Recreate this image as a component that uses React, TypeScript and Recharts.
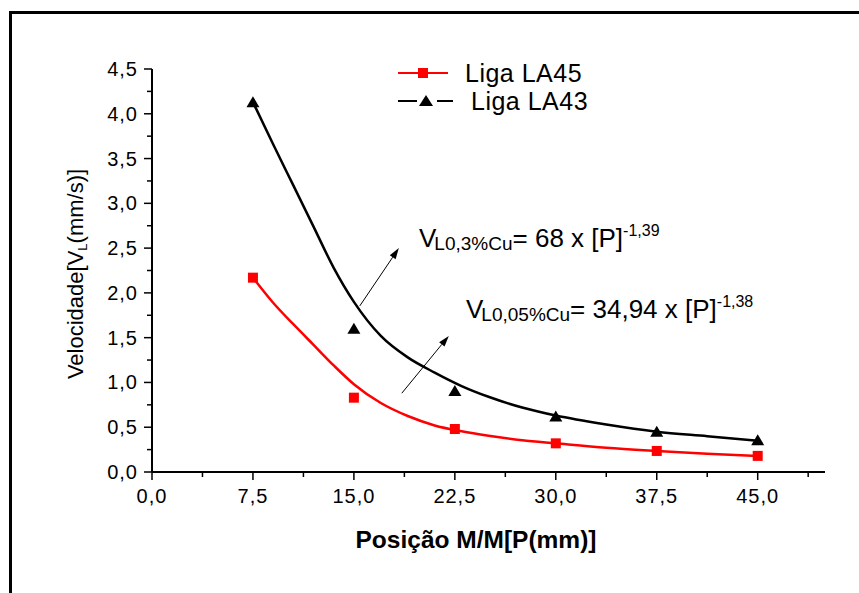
import React from "react";
import {
  ComposedChart,
  Line,
  Scatter,
  XAxis,
  YAxis,
  Legend,
  ReferenceLine,
  Customized,
} from "recharts";

// measured points
const positions = [7.5, 15, 22.5, 30, 37.5, 45];
const la45 = [2.17, 0.83, 0.48, 0.32, 0.235, 0.18];
const la43 = [4.13, 1.6, 0.905, 0.62, 0.45, 0.355];

// fitted curves
const fitPositions = [7.5, 9, 10.5, 12, 13.5, 15, 17, 19, 21, 23, 25, 27.5, 30, 33.75, 37.5, 41.25, 45];
const fitLa45 = [2.17, 1.89, 1.65, 1.42, 1.19, 0.98, 0.77, 0.625, 0.52, 0.455, 0.405, 0.355, 0.32, 0.27, 0.235, 0.205, 0.18];
const fitLa43 = [4.13, 3.66, 3.2, 2.74, 2.28, 1.9, 1.52, 1.28, 1.11, 0.96, 0.84, 0.72, 0.63, 0.53, 0.45, 0.4, 0.35];

const xTicks = [0, 3.75, 7.5, 11.25, 15, 18.75, 22.5, 26.25, 30, 33.75, 37.5, 41.25, 45, 48.75];
const yTicks = [0, 0.25, 0.5, 0.75, 1, 1.25, 1.5, 1.75, 2, 2.25, 2.5, 2.75, 3, 3.25, 3.5, 3.75, 4, 4.25, 4.5];

const seriesOrder = ["Liga LA45", "Liga LA43"];

const FONT = "'Liberation Sans', Arial, sans-serif";
const RED = "#ff0000";

const la45Points = positions.map((x, i) => ({ x, y: la45[i] }));
const la43Points = positions.map((x, i) => ({ x, y: la43[i] }));
const la45Fit = fitPositions.map((x, i) => ({ x, y: fitLa45[i] }));
const la43Fit = fitPositions.map((x, i) => ({ x, y: fitLa43[i] }));

const fmt = (v: number) => v.toFixed(1).replace(".", ",");
const onStep = (v: number, step: number) => Math.abs(v / step - Math.round(v / step)) < 1e-6;

function XTick({ x, y, payload }: any) {
  const major = onStep(payload.value, 7.5);
  return (
    <g>
      <line x1={x} x2={x} y1={y} y2={y + (major ? 8 : 5)} stroke="#000" strokeWidth={1.5} />
      {major && (
        <text x={x} y={y + 31} textAnchor="middle" fontSize={20} letterSpacing={1} fontFamily={FONT} fill="#000">
          {fmt(payload.value)}
        </text>
      )}
    </g>
  );
}

function YTick({ x, y, payload }: any) {
  const major = onStep(payload.value, 0.5);
  return (
    <g>
      <line x1={x - (major ? 8 : 5)} x2={x} y1={y} y2={y} stroke="#000" strokeWidth={1.5} />
      {major && (
        <text x={x - 14} y={y + 7} textAnchor="end" fontSize={20} letterSpacing={1} fontFamily={FONT} fill="#000">
          {fmt(payload.value)}
        </text>
      )}
    </g>
  );
}

const Square = ({ cx, cy }: any) => (
  <rect x={cx - 5} y={cy - 5} width={10} height={10} fill={RED} />
);

const Triangle = ({ cx, cy }: any) => (
  <polygon points={`${cx},${cy - 6} ${cx - 6.5},${cy + 5} ${cx + 6.5},${cy + 5}`} fill="#000" />
);

function Arrow({ x1, y1, x2, y2 }: any) {
  const a = Math.atan2(y2 - y1, x2 - x1);
  const len = 11;
  const w = 3.5;
  const bx = x2 - len * Math.cos(a);
  const by = y2 - len * Math.sin(a);
  const px = w * Math.sin(a);
  const py = w * Math.cos(a);
  return (
    <g>
      <line x1={x1} y1={y1} x2={bx} y2={by} stroke="#000" strokeWidth={1} />
      <polygon points={`${x2},${y2} ${bx + px},${by - py} ${bx - px},${by + py}`} fill="#000" />
    </g>
  );
}

function LegendBox({ payload }: any) {
  const items = (payload || [])
    .filter((it: any) => seriesOrder.includes(it.value))
    .sort((a: any, b: any) => seriesOrder.indexOf(a.value) - seriesOrder.indexOf(b.value));
  return (
    <svg width={240} height={72} style={{ display: "block", overflow: "visible" }}>
      {items.map((item: any, i: number) => {
        const cy = 18 + i * 28;
        const isRed = item.value === "Liga LA45";
        return (
          <g key={item.value}>
            {isRed ? (
              <>
                <line x1={3} x2={53} y1={cy} y2={cy} stroke={RED} strokeWidth={2} />
                <rect x={23} y={cy - 5} width={10} height={10} fill={RED} />
              </>
            ) : (
              <>
                <line x1={3} x2={22} y1={cy} y2={cy} stroke="#000" strokeWidth={2} />
                <line x1={42} x2={58} y1={cy} y2={cy} stroke="#000" strokeWidth={2} />
                <polygon points={`31,${cy - 6} 24,${cy + 5} 38,${cy + 5}`} fill="#000" />
              </>
            )}
            <text x={isRed ? 70 : 76} y={cy + 9} fontSize={25} letterSpacing={0.5} fontFamily={FONT} fill="#000">
              {item.value}
            </text>
          </g>
        );
      })}
    </svg>
  );
}

function Texts() {
  return (
    <g fontFamily={FONT} fill="#000">
      <text x={419} y={247} fontSize={26}>
        V
        <tspan fontSize={19} dx={-2} dy={3}>L0,3%Cu</tspan>
        <tspan dy={-3}>= 68 x [P]</tspan>
        <tspan fontSize={16} dy={-11}>-1,39</tspan>
      </text>
      <text x={466} y={318} fontSize={26}>
        V
        <tspan fontSize={19} dx={-2} dy={3}>L0,05%Cu</tspan>
        <tspan dy={-3}>= 34,94 x [P]</tspan>
        <tspan fontSize={16} dy={-11}>-1,38</tspan>
      </text>
      <text x={476} y={548} fontSize={24.5} fontWeight="bold" textAnchor="middle">
        Posição M/M[P(mm)]
      </text>
      <text x={83} y={274} fontSize={22} textAnchor="middle" transform="rotate(-90 83 274)">
        Velocidade[V
        <tspan fontSize={13} dy={4}>L</tspan>
        <tspan dy={-4}>(mm/s)]</tspan>
      </text>
    </g>
  );
}

export default function App() {
  return (
    <div style={{ position: "fixed", left: 0, top: 0, width: 859, height: 593, background: "#fff", overflow: "hidden" }}>
      <div
        style={{
          position: "absolute",
          left: 9,
          top: 11,
          width: 900,
          height: 700,
          borderTop: "3px solid #000",
          borderLeft: "3px solid #000",
        }}
      />
      <ComposedChart
        width={859}
        height={593}
        margin={{ top: 69, right: 34, bottom: 81, left: 72 }}
        style={{ position: "absolute", left: 0, top: 0 }}
      >
        <XAxis
          type="number"
          dataKey="x"
          domain={[0, 50]}
          ticks={xTicks}
          interval={0}
          height={40}
          tickSize={0}
          tickMargin={0}
          tickLine={false}
          axisLine={{ stroke: "#000", strokeWidth: 2 }}
          tick={<XTick />}
          allowDuplicatedCategory={false}
        />
        <YAxis
          type="number"
          dataKey="y"
          domain={[0, 4.5]}
          ticks={yTicks}
          interval={0}
          width={80}
          tickSize={0}
          tickMargin={0}
          tickLine={false}
          axisLine={{ stroke: "#000", strokeWidth: 2 }}
          tick={<YTick />}
        />
        <Line
          data={la45Fit}
          dataKey="y"
          type="monotone"
          stroke={RED}
          strokeWidth={2.5}
          dot={false}
          activeDot={false}
          legendType="none"
          isAnimationActive={false}
        />
        <Line
          data={la43Fit}
          dataKey="y"
          type="monotone"
          stroke="#000"
          strokeWidth={2.5}
          dot={false}
          activeDot={false}
          legendType="none"
          isAnimationActive={false}
        />
        <Scatter name="Liga LA45" data={la45Points} dataKey="y" fill={RED} shape={<Square />} isAnimationActive={false} />
        <Scatter name="Liga LA43" data={la43Points} dataKey="y" fill="#000" shape={<Triangle />} isAnimationActive={false} />
        <ReferenceLine
          segment={[{ x: 15.44, y: 1.855 }, { x: 18.34, y: 2.5 }]}
          shape={(p: any) => <Arrow {...p} />}
        />
        <ReferenceLine
          segment={[{ x: 18.56, y: 0.88 }, { x: 22.05, y: 1.52 }]}
          shape={(p: any) => <Arrow {...p} />}
        />
        <Legend
          layout="horizontal"
          verticalAlign="middle"
          align="center"
          width={240}
          height={72}
          wrapperStyle={{ left: 395, top: 55, width: 240, height: 72 }}
          content={<LegendBox />}
        />
        <Customized component={<Texts />} />
      </ComposedChart>
    </div>
  );
}
